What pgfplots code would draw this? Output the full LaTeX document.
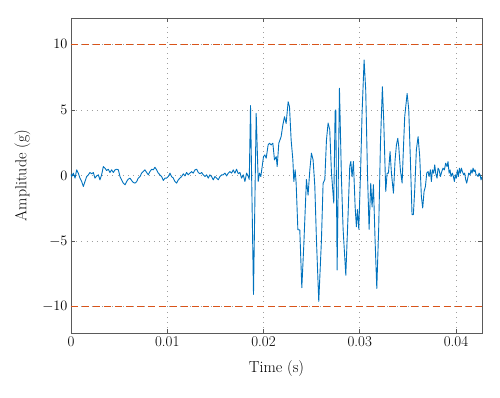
\documentclass[border=0pt]{standalone}
\usepackage{pgfplots}
\pgfplotsset{compat=1.18}
\definecolor{mblue}{RGB}{0,114,189}
\definecolor{morange}{RGB}{217,83,25}
\definecolor{axgray}{RGB}{90,90,90}
\begin{document}
\begin{tikzpicture}
\begin{axis}[name=ax, width=411bp, height=315bp, scale only axis,
  xmin=0, xmax=0.0427, ymin=-12, ymax=12,
  xtick={0,0.01,0.02,0.03,0.04}, xticklabels={0,0.01,0.02,0.03,0.04},
  ytick={-10,-5,0,5,10},
  scaled x ticks=false,
  grid=major,
  major grid style={gray!75, line width=0.6pt, dash pattern=on 0.7pt off 4.5pt},
  axis line style={axgray, line width=0.9pt},
  tick style={axgray, line width=0.6pt},
  tick align=inside, major tick length=4bp,
  xlabel={Time (s)}, ylabel={Amplitude (g)},
  tick label style={font=\fontsize{15}{17}\selectfont},
  label style={font=\fontsize{16}{19}\selectfont},
  xlabel style={yshift=-7bp},
  ylabel style={yshift=5bp},
]
\addplot[morange, line width=1.0pt, dash pattern=on 7pt off 4pt] coordinates {(0,10) (0.0427,10)};
\addplot[morange, line width=1.0pt, dash pattern=on 7pt off 4pt] coordinates {(0,-10) (0.0427,-10)};
\addplot[mblue, line width=0.9pt, line join=round] coordinates {
(0.00000,0.10) (0.00007,-0.08) (0.00024,0.18) (0.00042,-0.20) (0.00059,0.43) (0.00076,0.18)
(0.00093,-0.20) (0.00111,-0.46) (0.00128,-0.84) (0.00145,-0.46) (0.00163,-0.08) (0.00180,0.05)
(0.00197,0.23) (0.00215,0.13) (0.00232,0.23) (0.00249,-0.20) (0.00267,-0.03) (0.00284,0.05)
(0.00301,-0.33) (0.00318,0.05) (0.00336,0.68) (0.00353,0.56) (0.00370,0.38) (0.00388,0.48)
(0.00405,0.23) (0.00422,0.43) (0.00440,0.23) (0.00457,0.43) (0.00474,0.48) (0.00492,0.43)
(0.00509,-0.08) (0.00526,-0.33) (0.00543,-0.58) (0.00561,-0.71) (0.00578,-0.46) (0.00595,-0.28)
(0.00613,-0.20) (0.00630,-0.38) (0.00647,-0.53) (0.00665,-0.58) (0.00682,-0.46) (0.00699,-0.20)
(0.00717,-0.08) (0.00734,0.18) (0.00751,0.30) (0.00768,0.43) (0.00786,0.23) (0.00803,0.05)
(0.00820,0.30) (0.00838,0.48) (0.00855,0.43) (0.00872,0.63) (0.00890,0.43) (0.00907,0.18)
(0.00924,0.05) (0.00942,-0.08) (0.00959,-0.38) (0.00976,-0.20) (0.00993,-0.20) (0.01011,-0.08)
(0.01028,0.18) (0.01045,-0.08) (0.01063,-0.20) (0.01080,-0.46) (0.01097,-0.58) (0.01115,-0.33)
(0.01132,-0.20) (0.01149,-0.08) (0.01167,0.13) (0.01184,-0.03) (0.01201,0.23) (0.01218,0.05)
(0.01236,0.18) (0.01253,0.30) (0.01270,0.18) (0.01288,0.43) (0.01305,0.48) (0.01322,0.23)
(0.01340,0.13) (0.01357,0.23) (0.01374,0.05) (0.01392,-0.08) (0.01409,0.05) (0.01426,-0.20)
(0.01443,0.05) (0.01461,-0.08) (0.01478,-0.33) (0.01495,-0.08) (0.01513,-0.20) (0.01530,-0.33)
(0.01547,-0.08) (0.01565,0.05) (0.01582,0.05) (0.01599,0.18) (0.01617,-0.03) (0.01634,0.18)
(0.01651,0.30) (0.01668,0.18) (0.01686,0.43) (0.01703,0.18) (0.01720,0.48) (0.01738,0.13)
(0.01755,0.23) (0.01772,-0.20) (0.01790,0.05) (0.01807,-0.46) (0.01824,0.18) (0.01842,-0.08)
(0.01852,-0.30)
(0.01865,5.32) (0.01896,-9.06) (0.01924,4.73) (0.01945,-0.46) (0.01958,0.18) (0.01972,-0.08)
(0.01986,0.68) (0.02000,1.44) (0.02014,1.57) (0.02028,1.32) (0.02048,2.33) (0.02062,2.46)
(0.02080,2.33) (0.02097,2.46) (0.02114,1.19) (0.02132,1.44) (0.02142,0.68) (0.02159,2.46)
(0.02183,2.96) (0.02201,3.85) (0.02218,4.48) (0.02235,3.97) (0.02256,5.62) (0.02270,5.24)
(0.02287,2.71) (0.02305,1.19) (0.02315,-0.46) (0.02329,0.43) (0.02339,-0.58) (0.02357,-4.13)
(0.02377,-4.15) (0.02398,-8.55) (0.02418,-5.40) (0.02446,-0.30) (0.02463,-1.50) (0.02481,0.40)
(0.02498,1.70) (0.02515,1.20) (0.02533,-0.80) (0.02550,-4.90) (0.02574,-9.60) (0.02602,-4.90)
(0.02619,-0.60) (0.02637,-0.30) (0.02654,2.70) (0.02671,4.00) (0.02688,3.50) (0.02706,0.20)
(0.02730,-2.10) (0.02744,4.90) (0.02751,5.00) (0.02765,-7.20) (0.02789,6.65) (0.02810,-0.30)
(0.02827,-4.10) (0.02855,-7.60) (0.02879,-2.90) (0.02896,0.70) (0.02907,1.07) (0.02920,-0.10)
(0.02934,1.07) (0.02952,-2.40) (0.02965,-3.90) (0.02976,-2.60) (0.02990,-4.10) (0.03010,0.70)
(0.03024,4.75) (0.03045,8.80) (0.03062,6.50) (0.03080,0.20) (0.03097,-4.10) (0.03114,-0.60)
(0.03128,-2.40) (0.03142,-0.70) (0.03159,-4.90) (0.03177,-8.60)
(0.03197,-3.92) (0.03215,2.46) (0.03235,6.76) (0.03249,4.18)
(0.03270,-1.22) (0.03284,0.18) (0.03298,0.18) (0.03315,1.82) (0.03329,0.18) (0.03350,-1.35)
(0.03367,1.19) (0.03381,2.33) (0.03395,2.84) (0.03405,2.20) (0.03422,0.43) (0.03440,-0.58)
(0.03453,1.95) (0.03467,4.48) (0.03492,6.25) (0.03509,5.01) (0.03526,1.19) (0.03543,-2.98)
(0.03557,-2.98) (0.03571,-1.09) (0.03588,1.95) (0.03606,2.96) (0.03623,1.44) (0.03640,-1.59)
(0.03654,-2.48) (0.03668,-1.22) (0.03682,-0.84) (0.03696,0.18) (0.03710,0.30) (0.03720,-0.08)
(0.03734,0.43) (0.03744,-0.46) (0.03755,0.43) (0.03768,0.18) (0.03779,0.81) (0.03789,0.18)
(0.03803,-0.20) (0.03813,0.56) (0.03824,0.43) (0.03838,-0.08) (0.03852,0.30) (0.03865,0.56)
(0.03879,0.43) (0.03893,0.94) (0.03907,0.68) (0.03917,1.06) (0.03928,0.18) (0.03938,0.43)
(0.03948,-0.08) (0.03962,0.18) (0.03973,-0.08) (0.03983,-0.46) (0.03993,0.05) (0.04004,-0.20)
(0.04014,0.43) (0.04025,-0.08) (0.04035,0.56) (0.04045,0.18) (0.04056,0.56) (0.04066,0.30)
(0.04080,0.05) (0.04090,0.18) (0.04101,-0.33) (0.04111,-0.58) (0.04122,-0.20) (0.04132,0.18)
(0.04146,0.05) (0.04156,0.43) (0.04167,0.18) (0.04177,0.56) (0.04187,0.30) (0.04198,0.43)
(0.04208,0.05) (0.04218,0.05) (0.04229,-0.08) (0.04239,0.18) (0.04250,0.05) (0.04260,-0.33)
(0.04270,-0.10)
};
\end{axis}
\path ([xshift=-71bp,yshift=-65bp]ax.south west) rectangle ([xshift=18bp,yshift=18bp]ax.north east);
\end{tikzpicture}
\end{document}
